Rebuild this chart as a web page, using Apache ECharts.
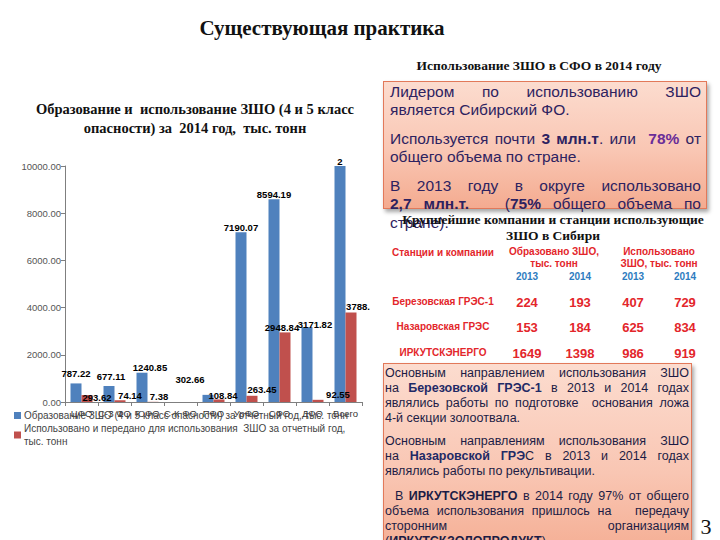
<!DOCTYPE html>
<html>
<head>
<meta charset="utf-8">
<script src="https://cdn.jsdelivr.net/npm/echarts@6/dist/echarts.min.js"></script>
<style>
  html, body { margin:0; padding:0; background:#fff; }
  #root { position:relative; width:720px; height:540px; overflow:hidden; background:#fff; }
  #chart { position:absolute; left:0; top:0; width:720px; height:540px; }
  .abs { position:absolute; white-space:nowrap; }
  .serifb { font-family:"Liberation Serif","DejaVu Serif",serif; font-weight:bold; color:#111; }
  .box { position:absolute; box-sizing:border-box; border:1px solid #e2795a;
         background:linear-gradient(to bottom,#fcdccf 0%,#f9c6b3 55%,#f4ab90 100%);
         box-shadow:2px 3px 4px rgba(0,0,0,0.35); }
  .lines { position:absolute; font-family:"Liberation Sans",Arial,sans-serif; }
  .lines div { white-space:nowrap; }
  .lines .j { text-align:justify; text-align-last:justify; }
  .c { transform:translate(-50%,-50%); text-align:center; }
  .red { color:#e3262b; font-family:"Liberation Sans",Arial,sans-serif; font-weight:bold; }
  .blue { color:#2e7cc0; font-family:"Liberation Sans",Arial,sans-serif; font-weight:bold; }
</style>
</head>
<body>
<div id="root">
  <div id="chart"></div>
</div>
<script>
// ---------- chart data ----------
const categories = ['ЦФО', 'С-З ФО', 'ЮФО', 'С-К ФО', 'ПФО', 'УрФО', 'СФО', 'ДФО', 'Всего'];
const formed = [787.22, 677.11, 1240.85, 0, 302.66, 7190.07, 8594.19, 3171.82, 21963.92];
const used = [293.62, 74.14, 7.38, 0, 108.84, 263.45, 2948.84, 92.55, 3788.82];
// label texts as printed on the slide (some are truncated in the original)
const formedLabels = ['787.22', '677.11', '1240.85', '', '302.66', '7190.07', '8594.19', '3171.82', '2'];
const usedLabels = ['293.62', '74.14', '7.38', '', '108.84', '263.45', '2948.84', '92.55', '3788.'];
const yTicks = [0, 2000, 4000, 6000, 8000, 10000];
const seriesNames = ['Образование ЗШО (4 и 5 класс опасности) за отчетный год, тыс. тонн',
                     'Использовано и передано для использования ЗШО за отчетный год, тыс. тонн'];

// ---------- table data ----------
const stations = ['Березовская ГРЭС-1', 'Назаровская ГРЭС', 'ИРКУТСКЭНЕРГО'];
const tableYears = ['2013', '2014', '2013', '2014'];
const formed2013 = [224, 153, 1649];
const formed2014 = [193, 184, 1398];
const used2013 = [407, 625, 986];
const used2014 = [729, 834, 919];

// ---------- layout constants (label nudges) ----------
const formedLabelShift = [[0,0],[2,0],[8,5],[0,0],[-18,-5],[0,5],[0,5],[8,7],[0,5]];
const usedLabelShift = [[10,12],[10,5],[6,5],[0,0],[4,6],[10,4],[-3,5],[20,5],[7,4]];

const chart = echarts.init(document.getElementById('chart'), null, {renderer:'svg'});

function mkData(vals, shifts) {
  return vals.map((v, i) => ({ value: v, label: { offset: shifts[i] } }));
}

const labelStyle = {
  show: true, position: 'top', distance: 5,
  fontFamily: 'Liberation Sans', fontWeight: 'bold', fontSize: 9.5, color: '#000'
};

chart.setOption({
  animation: false,
  textStyle: { fontFamily: 'Liberation Sans' },
  graphic: [{
    type: 'text', x: 195, y: 99,
    style: {
      text: 'Образование и  использование ЗШО (4 и 5 класс\nопасности) за  2014 год,  тыс. тонн',
      textAlign: 'center', textVerticalAlign: 'top',
      font: 'bold 14.5px "Liberation Serif"', lineHeight: 19, fill: '#111'
    }
  }],
  grid: { left: 65, right: 358, top: 166, bottom: 138 },
  legend: {
    orient: 'vertical', left: 14, top: 409, itemWidth: 7, itemHeight: 7, itemGap: 0,
    padding: 0, icon: 'rect',
    data: seriesNames,
    formatter: function (name) {
      return name === seriesNames[1]
        ? 'Использовано и передано для использования  ЗШО за отчетный год,\nтыс. тонн'
        : name;
    },
    textStyle: { fontSize: 10, color: '#444', lineHeight: 13, padding: [0,0,0,-2] }
  },
  xAxis: {
    type: 'category', data: categories,
    axisLine: { lineStyle: { color: '#7f7f7f' } },
    axisTick: { show: true, length: 4, lineStyle: { color: '#7f7f7f' } },
    axisLabel: { interval: 0, fontSize: 9.5, color: '#333', margin: 6 }
  },
  yAxis: {
    type: 'value', min: yTicks[0], max: yTicks[yTicks.length - 1], interval: 2000,
    axisLine: { show: true, lineStyle: { color: '#7f7f7f' } },
    axisTick: { show: true, length: 4, lineStyle: { color: '#7f7f7f' } },
    splitLine: { show: false },
    axisLabel: { formatter: v => v.toFixed(2), fontSize: 9.5, color: '#555', margin: 4 }
  },
  series: [{
    name: seriesNames[0], type: 'bar', data: mkData(formed, formedLabelShift),
    barWidth: 11, barGap: '0%', itemStyle: { color: '#4f81bd' },
    label: Object.assign({}, labelStyle, { formatter: p => formedLabels[p.dataIndex] })
  }, {
    name: seriesNames[1], type: 'bar', data: mkData(used, usedLabelShift),
    barWidth: 11, barGap: '0%', itemStyle: { color: '#c0504d' },
    label: Object.assign({}, labelStyle, { formatter: p => usedLabels[p.dataIndex] })
  }]
});

// ---------- slide text (HTML) ----------
const root = document.getElementById('root');
function add(html, css, cls) {
  const d = document.createElement('div');
  d.className = 'abs ' + (cls || '');
  d.innerHTML = html;
  Object.assign(d.style, css);
  root.appendChild(d);
  return d;
}

add('Существующая практика', { left: '322px', top: '28px', fontSize: '21px' }, 'serifb c');
add('Использование ЗШО в СФО в 2014 году', { left: '539px', top: '66px', fontSize: '13.5px' }, 'serifb c');

// box 1
add('', { left: '383px', top: '81px', width: '324px', height: '128px' }, 'box');
add(
  '<div class="j">Лидером по использованию ЗШО</div>' +
  '<div>является Сибирский ФО.</div>' +
  '<div class="j" style="margin-top:10.5px">Используется почти <b>3 млн.т</b>. или &nbsp;<b style="color:#6a2d98">78%</b> от</div>' +
  '<div>общего объема по стране.</div>' +
  '<div class="j" style="margin-top:10.5px">В 2013 году в округе использовано</div>' +
  '<div class="j"><b>2,7 млн.т.</b> &nbsp; (<b>75%</b> общего объема по</div>' +
  '<div>стране).</div>',
  { left: '390px', top: '83px', width: '311px', fontSize: '15.5px', lineHeight: '18.3px', color: '#2d2260', whiteSpace: 'normal' },
  'lines');

// table
add('Крупнейшие компании и станции использующие<br>ЗШО в Сибири',
  { left: '553px', top: '228px', fontSize: '13.5px', lineHeight: '16px' }, 'serifb c');
add('Станции и компании', { left: '443px', top: '252px', fontSize: '10px' }, 'red c');
add('Образовано ЗШО,<br>тыс. тонн', { left: '554px', top: '258px', fontSize: '10px', lineHeight: '12px' }, 'red c');
add('Использовано<br>ЗШО, тыс. тонн', { left: '659px', top: '258px', fontSize: '10px', lineHeight: '12px' }, 'red c');
const colX = [527, 580, 633, 685];
tableYears.forEach((y, i) => add(y, { left: colX[i] + 'px', top: '276px', fontSize: '10px' }, 'blue c'));
const rowY = [301, 326, 352];
const cols = [formed2013, formed2014, used2013, used2014];
stations.forEach((s, r) => {
  add(s, { left: '443px', top: rowY[r] + 'px', fontSize: '10px' }, 'red c');
  cols.forEach((col, c) => add(String(col[r]), { left: colX[c] + 'px', top: (rowY[r] + 1) + 'px', fontSize: '13px' }, 'red c'));
});

// box 2
add('', { left: '383px', top: '363px', width: '309px', height: '200px' }, 'box');
add(
  '<div class="j">Основным направлением использования ЗШО</div>' +
  '<div class="j">на <b style="color:#1f2a66">Березовской ГРЭС-1</b> в 2013 и 2014 годах</div>' +
  '<div class="j">являлись работы по подготовке &nbsp;основания ложа</div>' +
  '<div>4-й секции золоотвала.</div>' +
  '<div class="j" style="margin-top:8px">Основным направлениям использования ЗШО</div>' +
  '<div class="j">на <b style="color:#1f2a66">Назаровской ГРЭ</b>С в 2013 и 2014 годах</div>' +
  '<div>являлись работы по рекультивации.</div>' +
  '<div class="j" style="margin-top:10px;padding-left:10px">В <b>ИРКУТСКЭНЕРГО</b> в 2014 году 97% от общего</div>' +
  '<div class="j">объема использования пришлось на &nbsp; передачу</div>' +
  '<div class="j">сторонним организациям</div>' +
  '<div>(<b>ИРКУТСКЗОЛОПРОДУКТ</b>).</div>',
  { left: '385px', top: '365.5px', width: '304px', fontSize: '12.5px', lineHeight: '15px', color: '#1c1c45', whiteSpace: 'normal' },
  'lines');

add('3', { left: '706px', top: '527px', fontSize: '22px', fontWeight: 'normal' }, 'serifb c');
</script>
</body>
</html>
